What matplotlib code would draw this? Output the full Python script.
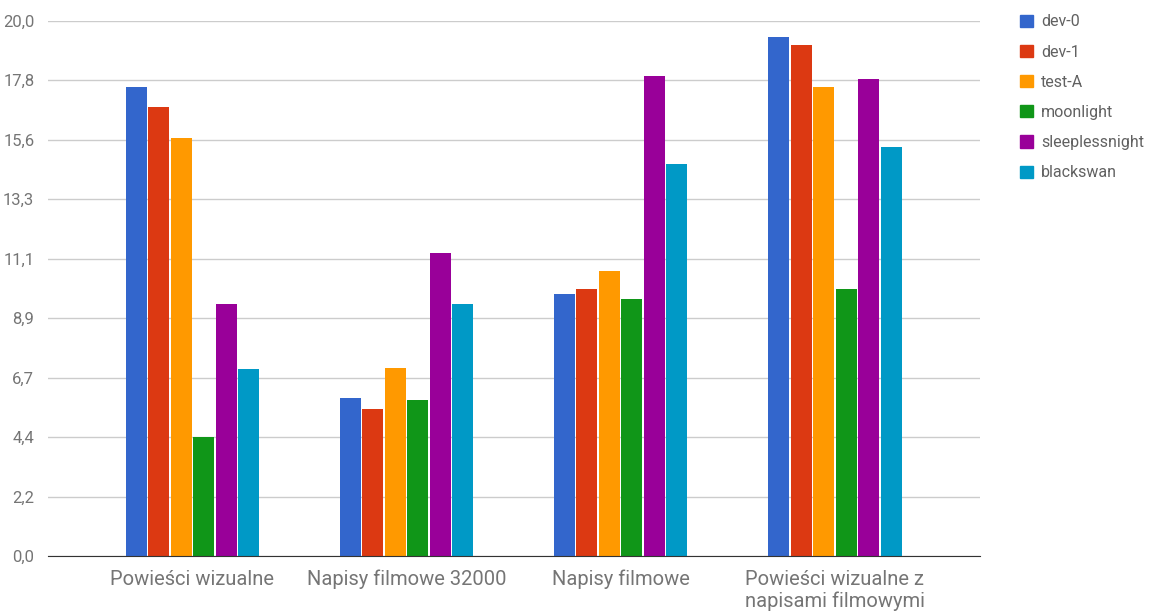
import numpy as np
import matplotlib.pyplot as plt
from matplotlib.patches import Patch

plt.rcParams['font.family'] = ['Roboto', 'DejaVu Sans']

categories = ['Powieści wizualne', 'Napisy filmowe 32000', 'Napisy filmowe',
              'Powieści wizualne z\nnapisami filmowymi']
series = ['dev-0', 'dev-1', 'test-A', 'moonlight', 'sleeplessnight', 'blackswan']
dev0 = [17.54, 5.92, 9.81, 19.39]
dev1 = [16.79, 5.48, 9.96, 19.11]
testA = [15.61, 7.04, 10.66, 17.54]
moonlight = [4.44, 5.83, 9.61, 9.98]
sleeplessnight = [9.41, 11.32, 17.93, 17.84]
blackswan = [6.99, 9.43, 14.66, 15.29]
values = [dev0, dev1, testA, moonlight, sleeplessnight, blackswan]
colors = ['#3366cc', '#dc3912', '#ff9900', '#109618', '#990099', '#0099c6']

fig = plt.figure(figsize=(11.49, 6.13), dpi=100)
ax = fig.add_axes([0.042, 0.093, 0.811, 0.873])

x = np.arange(len(categories))
pitch = 0.105
width = 0.098
for i, (vals, col) in enumerate(zip(values, colors)):
    ax.bar(x + (i - 2.5) * pitch, vals, width, color=col, zorder=3)

ymax = 20.0
ticks = np.linspace(0, ymax, 10)
ax.set_ylim(0, ymax)
ax.set_yticks(ticks)
ax.set_yticklabels([f'{t:.1f}'.replace('.', ',') for t in ticks])
ax.set_xlim(-0.673, 3.678)
ax.set_xticks(x)
ax.set_xticklabels(categories, linespacing=1.2)

ax.grid(axis='y', color='#cccccc', linewidth=1, zorder=0)
for s in ['top', 'right', 'left']:
    ax.spines[s].set_visible(False)
ax.spines['bottom'].set_color('#333333')
ax.spines['bottom'].set_zorder(4)
ax.tick_params(axis='both', length=0, colors='#757575')
ax.tick_params(axis='x', pad=10, labelsize=14.5)
ax.tick_params(axis='y', pad=10, labelsize=12)

handles = [Patch(facecolor=c, edgecolor=c) for c in colors]
leg = fig.legend(handles, series, loc='upper left', bbox_to_anchor=(0.875, 1.0),
                 frameon=False, fontsize=11.5, labelcolor='#616161',
                 handlelength=0.8, handleheight=0.8, handletextpad=0.55,
                 labelspacing=0.95)

fig.savefig('out.png', dpi=100)
